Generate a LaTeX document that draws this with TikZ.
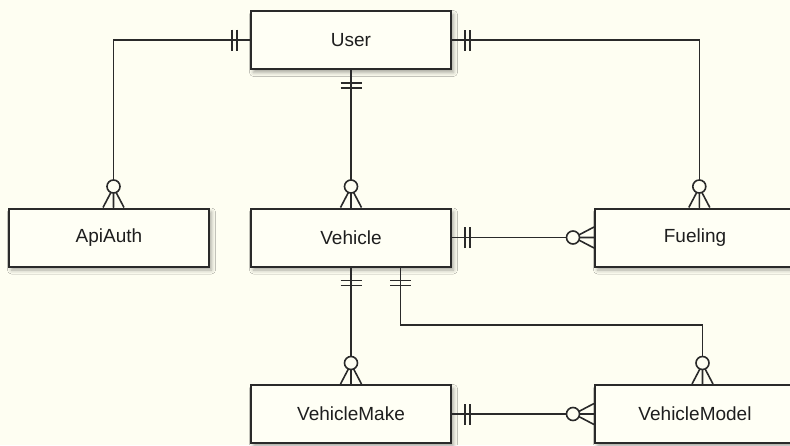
\documentclass[tikz,border=0pt]{standalone}
\usepackage{fontspec}
\setmainfont{Liberation Sans}
\usetikzlibrary{calc,shadows.blur}
\definecolor{paper}{HTML}{FEFEF2}
\definecolor{boxfill}{HTML}{FFFFF5}
\definecolor{ink}{HTML}{2A2A2A}
\definecolor{txt}{HTML}{1E1E1E}

\begin{document}
\begin{tikzpicture}[x=1pt,y=1pt,
  entity/.style={draw=ink, line width=2pt, fill=boxfill,
    minimum width=200pt, minimum height=58pt, inner sep=0pt,
    font=\fontsize{19}{22}\selectfont, text=txt,
    blur shadow={shadow xshift=2.5pt, shadow yshift=-3.5pt,
      shadow blur radius=4pt, shadow opacity=35}},
  rel/.style={draw=ink, line width=1.6pt},
  % "exactly one" mark: two bars across the line, near the box edge
  pics/exactlyone/.style={code={
    \draw[rel] (13,-10.5)--(13,10.5) (18,-10.5)--(18,10.5);}},
  % "zero or many" mark: crow's foot with a ring
  pics/zeromany/.style={code={
    \draw[rel] (0,10.5)--(20,0)--(0,-10.5) (0,0)--(20,0);
    \draw[rel, fill=paper] (21,0) circle (6.5);}}
]
\useasboundingbox (0,0) rectangle (790,-445);
\clip (0,0) rectangle (790,-445);
\fill[paper] (0,0) rectangle (790,-445);

% entities
\node[entity] (user)    at (351,-40)    {User};
\node[entity] (apiauth) at (109,-237.5) {ApiAuth};
\node[entity] (vehicle) at (351,-237.5) {Vehicle};
\node[entity] (fueling) at (695,-237.5) {Fueling};
\node[entity] (make)    at (351,-414)   {VehicleMake};
\node[entity] (model)   at (695,-414)   {VehicleModel};

% attachment points that are not at the box centres
\coordinate (apitop)   at ($(apiauth.north)+(4.5,0)$);
\coordinate (fueltop)  at ($(fueling.north)+(4.3,0)$);
\coordinate (vehout)   at ($(vehicle.south)+(49.5,0)$);
\coordinate (modeltop) at ($(model.north)+(7.5,0)$);
\coordinate (bend)     at (0,-325);

% relationships
\draw[rel] (user.west) -| (apitop);
\pic[rotate=180] at (user.west) {exactlyone};
\pic[rotate=90]  at (apitop) {zeromany};

\draw[rel] (user.east) -| (fueltop);
\pic at (user.east) {exactlyone};
\pic[rotate=90] at (fueltop) {zeromany};

\draw[rel] (user.south) -- (vehicle.north);
\pic[rotate=-90] at (user.south) {exactlyone};
\pic[rotate=90]  at (vehicle.north) {zeromany};

\draw[rel] (vehicle.east) -- (fueling.west);
\pic at (vehicle.east) {exactlyone};
\pic[rotate=180] at (fueling.west) {zeromany};

\draw[rel] (vehicle.south) -- (make.north);
\pic[rotate=-90] at (vehicle.south) {exactlyone};
\pic[rotate=90]  at (make.north) {zeromany};

\draw[rel] (vehout) -- (vehout |- bend) -| (modeltop);
\pic[rotate=-90] at (vehout) {exactlyone};
\pic[rotate=90]  at (modeltop) {zeromany};

\draw[rel] (make.east) -- (model.west);
\pic at (make.east) {exactlyone};
\pic[rotate=180] at (model.west) {zeromany};
\end{tikzpicture}
\end{document}
